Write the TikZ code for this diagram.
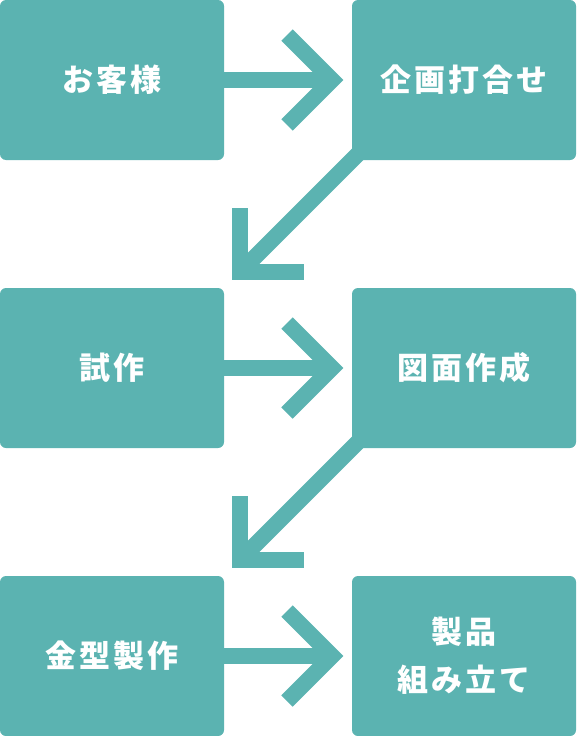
\documentclass[tikz,border=0pt]{standalone}
\usepackage{fontspec}
\usepackage{tikz}
\usetikzlibrary{positioning,backgrounds,calc}
\newfontfamily\jpfont[LetterSpace=9]{Noto Sans CJK JP}
\definecolor{mint}{HTML}{5BB3B1}

\begin{document}
\begin{tikzpicture}[x=1pt,y=1pt,
  stepbox/.style={fill=mint,rounded corners=6pt,minimum width=224pt,minimum height=160pt,
    outer sep=0pt,inner sep=0pt,text=white,align=center,
    font=\jpfont\bfseries\fontsize{31}{48}\selectfont},
  flow/.style={draw=mint,line width=16pt,line join=miter,miter limit=4}]
\useasboundingbox (0,0) rectangle (576,-736);
\foreach \n/\c/\r/\lab in {kyaku/0/0/お客様,kikaku/1/0/企画打合せ,shisaku/0/1/試作,
    zumen/1/1/図面作成,kanagata/0/2/金型製作,kumitate/1/2/{製品\\組み立て}}{
  \node[stepbox] (\n) at (112+352*\c,-80-288*\r) {\lab};
}
% across
\foreach \a/\b in {kyaku/kikaku,shisaku/zumen,kanagata/kumitate}{
  \draw[flow] (\a.east) -- ([xshift=-20pt]\b.west);
  \draw[flow] ([xshift=-20pt]\b.west) ++(-45,45) -- ++(45,-45) -- ++(-45,-45);
}
% down to next row
\begin{scope}[on background layer]
\foreach \a/\b in {kikaku/shisaku,zumen/kanagata}
  \draw[flow] ([shift={(20pt,20pt)}]\a.south west) -- ([shift={(16pt,16pt)}]\b.north east);
\end{scope}
\foreach \a/\b in {kikaku/shisaku,zumen/kanagata}
  \draw[flow] ([shift={(16pt,16pt)}]\b.north east) ++(0,64) -- ++(0,-64) -- ++(64,0);
\end{tikzpicture}
\end{document}
